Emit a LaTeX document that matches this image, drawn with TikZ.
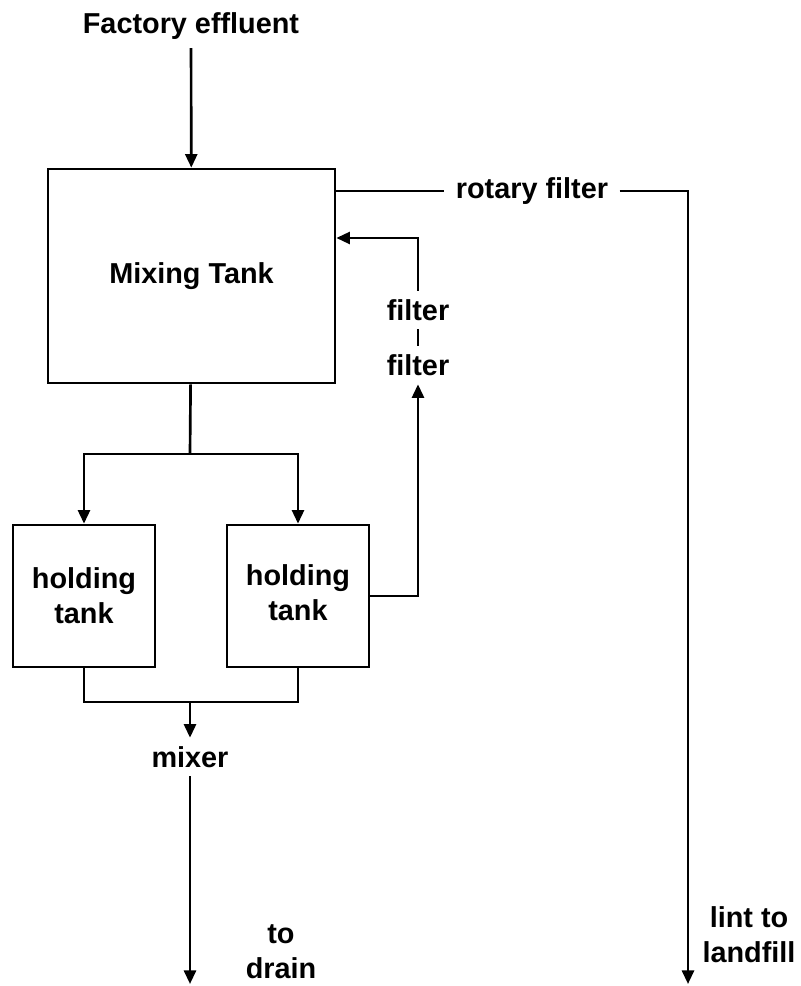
\documentclass[tikz,border=0pt]{standalone}
\usepackage{fontspec}
\setmainfont{Liberation Sans}
\usepackage{tikz}
\usetikzlibrary{arrows.meta, positioning, calc}
\definecolor{ink}{RGB}{0,0,0}
\tikzset{
  tankbox/.style={
    draw=ink,
    line width=1.9pt,
    align=center,
    inner sep=0pt,
    font=\bfseries\fontsize{20.5}{25}\selectfont
  },
  flowtext/.style={
    align=center,
    inner xsep=4pt,
    inner ysep=6pt,
    font=\bfseries\fontsize{20.5}{25}\selectfont
  },
  pipe/.style={line width=1.9pt, draw=ink},
  flow/.style={-{Triangle[length=3.4mm,width=3mm]}, line width=1.9pt, draw=ink}
}
\begin{document}
\begin{tikzpicture}[x=0.025cm, y=-0.025cm]
  \useasboundingbox (0,0) rectangle (801,986);

  \node[flowtext] (effluent) at (191,26) {Factory effluent};
  \node[tankbox, minimum width=7.175cm, minimum height=5.35cm] (mixtank) at (191.5,276) {Mixing Tank};
  \node[flowtext, inner xsep=8pt] (rotary) at (532,191) {rotary filter};

  \node[tankbox, minimum width=3.55cm, minimum height=3.55cm] (holdL) at (84,596) {holding\\tank};
  \node[tankbox, minimum width=3.55cm, minimum height=3.55cm] (holdR) at (298,596) {\raisebox{4pt}{\begin{tabular}{@{}c@{}}holding\\tank\end{tabular}}};

  \node[flowtext] (filterA) at (418,310) {filter};
  \node[flowtext] (filterB) at (418,365) {filter};

  \node[flowtext] (mixer) at (190,757) {mixer};
  \node[flowtext] (drain) at (281,952) {to\\drain};
  \node[flowtext] (landfill) at (749,935) {lint to\\landfill};

  \coordinate (split) at (190,454);
  \coordinate (merge) at (190,702);
  \coordinate (drainend) at (190,984);
  \coordinate (lintend) at (688,984);

  % inflow and lint path
  \draw[flow] (effluent) -- (mixtank);
  \draw[pipe] (mixtank.east |- rotary.west) -- (rotary.west);
  \draw[flow] (rotary.east) -| (lintend);

  % split to holding tanks
  \draw[pipe] (mixtank) -- (split);
  \draw[flow] (split) -| (holdL);
  \draw[flow] (split) -| (holdR);

  % filter return
  \draw[flow] (holdR.east) -| (filterB);
  \draw[pipe] (filterB) -- (filterA);
  \draw[flow] (filterA) |- ([yshift=0.95cm]mixtank.east);

  % merge to drain
  \draw[pipe] (holdL) |- (merge) -| (holdR);
  \draw[flow] (merge) -- (mixer);
  \draw[flow] (mixer) -- (drainend);
\end{tikzpicture}
\end{document}
